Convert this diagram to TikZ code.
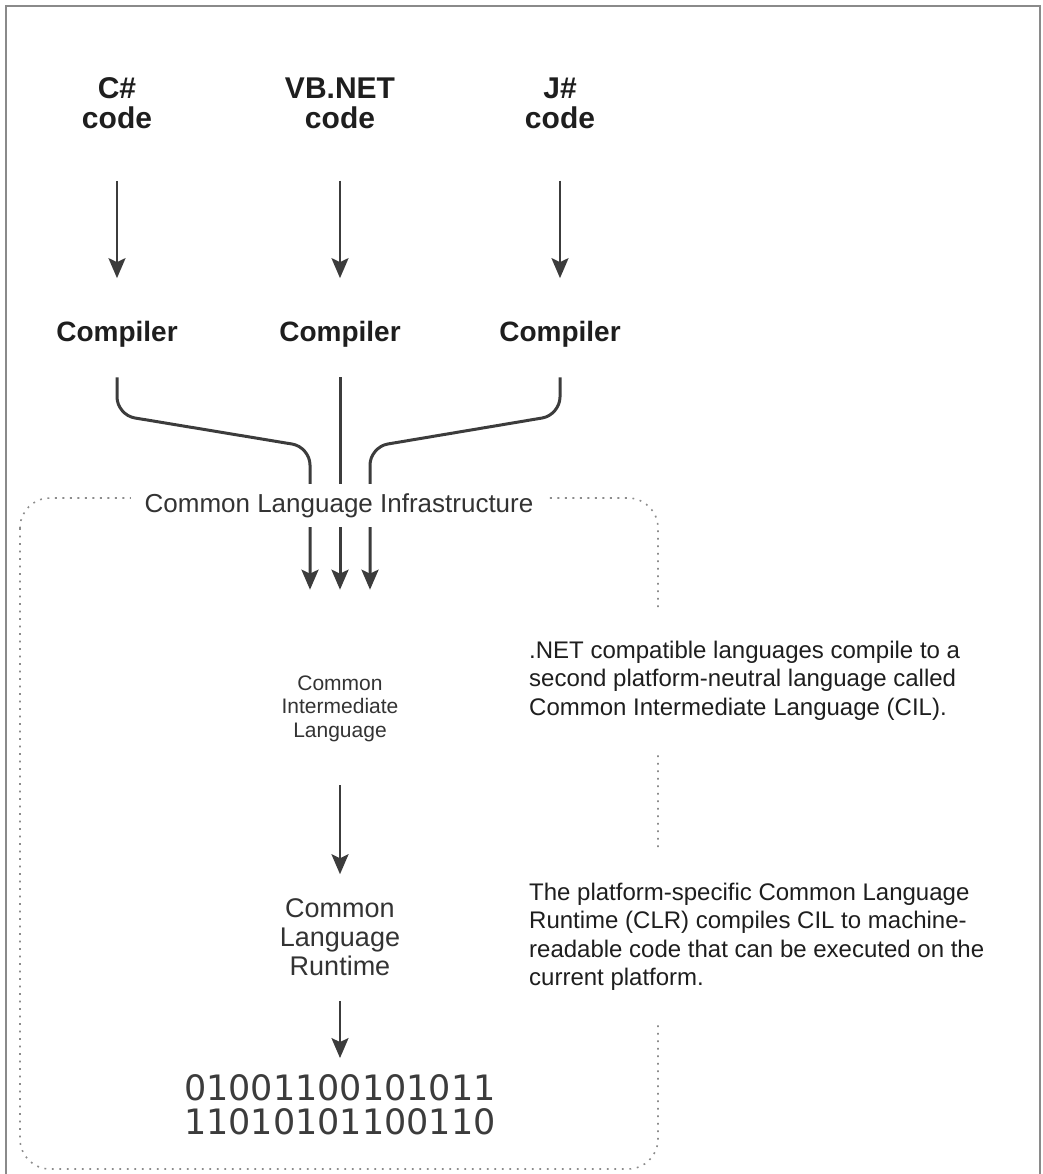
\documentclass[tikz,border=0pt]{standalone}
\usepackage{fontspec}
\setmainfont{Liberation Sans}
\newfontfamily\binfont{DejaVu Sans}
\usetikzlibrary{arrows.meta}
\definecolor{inkgray}{HTML}{1E1E1E}
\definecolor{textgray}{HTML}{333333}
\definecolor{linegray}{HTML}{3C3C3C}
\definecolor{dotgray}{HTML}{8C8C8C}
\definecolor{framegray}{HTML}{8A8A8A}
\tikzset{node style src/.style={inner sep=0pt, align=center, text=inkgray, font=\fontsize{30}{30}\selectfont\bfseries}}
\tikzset{node style cmp/.style={inner sep=0pt, text=inkgray, font=\fontsize{28}{30}\selectfont\bfseries}}
\tikzset{node style mid/.style={inner sep=0pt, align=center, text=textgray}}
\tikzset{node style note/.style={inner xsep=2pt, inner ysep=33pt, anchor=west, align=left, fill=white, text=inkgray, font=\fontsize{24}{28.5}\selectfont}}
\tikzset{arrow style/.style={draw=linegray, line width=2.5pt, -{Stealth[length=20pt,width=17pt,inset=4pt]}}}
\tikzset{link style/.style={arrow style, line width=3pt, rounded corners=18pt}}

\begin{document}
\begin{tikzpicture}[x=1pt,y=-1pt]
   % [[[
   \useasboundingbox (0,0) rectangle (1042,1174);
   % frame round the whole figure, no bottom edge
   \draw [framegray, line width=2.5pt] (6,1174) -- (6,6) -- (1040,6) -- (1040,1174);

   % CLI container
   \draw [dotgray, line width=1.6pt, dash pattern=on 1.8pt off 5.7pt, rounded corners=30pt] (20,498) rectangle (658,1169);

   % sources and compilers
   \node [node style src] (src-cs) at (117,103) {C\#\\code};
   \node [node style src] (src-vb) at (340,103) {VB.NET\\code};
   \node [node style src] (src-js) at (560,103) {J\#\\code};

   \node [node style cmp] (cmp-cs) at (117,334) {Compiler};
   \node [node style cmp] (cmp-vb) at (340,334) {Compiler};
   \node [node style cmp] (cmp-js) at (560,334) {Compiler};

   \node [node style mid, font=\fontsize{21}{23.5}\selectfont] (cil) at (340,708.6) {Common\\Intermediate\\Language};
   \node [node style mid, font=\fontsize{27}{29}\selectfont] (clr) at (340,937) {Common\\Language\\Runtime};
   \node [node style mid, text=linegray, font=\binfont\fontsize{35}{34}\selectfont] (bin) at (340,1104.5) {01001100101011\\11010101100110};

   \coordinate (in-l) at ([xshift=-30pt]cil.north);
   \coordinate (in-r) at ([xshift=30pt]cil.north);

   \draw [arrow style,shorten <=52pt,shorten >=42.6pt] (src-cs.south) to (cmp-cs.north);
   \draw [arrow style,shorten <=52pt,shorten >=42.6pt] (src-vb.south) to (cmp-vb.north);
   \draw [arrow style,shorten <=52pt,shorten >=42.6pt] (src-js.south) to (cmp-js.north);

   \draw [link style,shorten <=30pt,shorten >=85.7pt] (cmp-cs.south) -- (cmp-cs.south |- 0,415) -- (in-l |- 0,447) -- (in-l);
   \draw [link style,shorten <=30pt,shorten >=85.7pt] (cmp-vb.south) -- (cil.north);
   \draw [link style,shorten <=30pt,shorten >=85.7pt] (cmp-js.south) -- (cmp-js.south |- 0,415) -- (in-r |- 0,447) -- (in-r);

   \draw [arrow style,shorten <=43.6pt,shorten >=24pt] (cil.south) to (clr.north);
   \draw [arrow style,shorten <=25pt,shorten >=16pt] (clr.south) to (bin.north);

   % label sits on the lines and on the dotted edge
   \node [fill=white, inner xsep=14pt, inner ysep=9pt, text=textgray, font=\fontsize{26}{29}\selectfont] (cli-label) at (339,505.5) {Common Language Infrastructure};

   \node [node style note] (note-cil) at (527,680.5) {.NET compatible languages compile to a\\second platform-neutral language called\\Common Intermediate Language (CIL).};
   \node [node style note, inner ysep=31pt] (note-clr) at (527,937) {The platform-specific Common Language\\Runtime (CLR) compiles CIL to machine-\\readable code that can be executed on the\\current platform.};
   % ]]]
\end{tikzpicture}
\end{document}
